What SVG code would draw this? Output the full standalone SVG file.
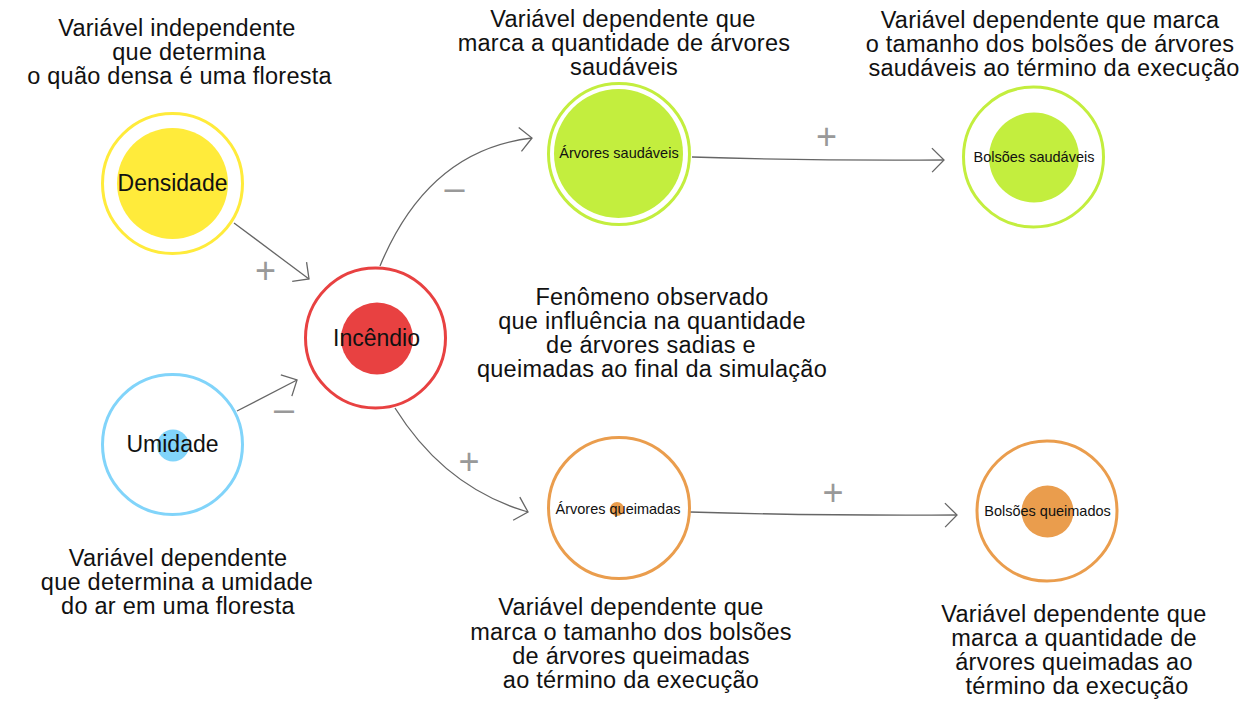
<svg xmlns="http://www.w3.org/2000/svg" width="1252" height="711" viewBox="0 0 1252 711">
<style>
text{font-family:"Liberation Sans",Arial,sans-serif;fill:#111;text-anchor:middle}
.ann{font-size:23.5px;letter-spacing:0.25px}
.big{font-size:23px}
.sm{font-size:14.5px}
.ring{fill:none;stroke-width:3}
.edge{fill:none;stroke:#666;stroke-width:1.3}
.sign{font-size:36px;fill:#999}
</style>
<defs>
<marker id="arr" markerUnits="userSpaceOnUse" markerWidth="30" markerHeight="30" viewBox="0 0 30 30" refX="15" refY="15" orient="auto">
<path d="M3,3 L15,15 L3,27" fill="none" stroke="#666" stroke-width="1.3"/>
</marker>
</defs>
<rect width="1252" height="711" fill="#fff"/>

<g id="connectors">
<path class="edge" d="M234,223 L309,279" marker-end="url(#arr)"/>
<path class="edge" d="M237,411 L297,380" marker-end="url(#arr)"/>
<path class="edge" d="M380,266 Q428,150 532,138" marker-end="url(#arr)"/>
<path class="edge" d="M692,157 Q820,161 944,160" marker-end="url(#arr)"/>
<path class="edge" d="M395,408 Q445,488 528,512" marker-end="url(#arr)"/>
<path class="edge" d="M690,512 Q830,516 957,515" marker-end="url(#arr)"/>
<text class="sign" x="265.5" y="283">+</text>
<text class="sign" x="284" y="421">–</text>
<text class="sign" x="454.5" y="200">–</text>
<text class="sign" x="826.5" y="149">+</text>
<text class="sign" x="469" y="474">+</text>
<text class="sign" x="833" y="504.5">+</text>
</g>

<g id="densidade">
<circle class="ring" cx="172.5" cy="183.5" r="70" stroke="#FFEB3B"/>
<circle cx="172.5" cy="183.5" r="55.5" fill="#FFEB3B"/>
<text class="big" x="172.5" y="191">Densidade</text>
</g>

<g id="umidade">
<circle class="ring" cx="172.5" cy="444.5" r="70" stroke="#81D4FA"/>
<circle cx="173" cy="445.5" r="16" fill="#81D4FA"/>
<text class="big" x="172.5" y="452">Umidade</text>
</g>

<g id="incendio">
<circle class="ring" cx="375.5" cy="338" r="70" stroke="#E84141"/>
<circle cx="377" cy="338.5" r="36" fill="#E84141"/>
<text class="big" x="376.5" y="346">Incêndio</text>
</g>

<g id="arvores-saudaveis">
<circle class="ring" cx="619" cy="154" r="70.5" stroke="#C3EE3E"/>
<circle cx="618.5" cy="153.5" r="64.5" fill="#C3EE3E"/>
<text class="sm" x="619" y="158">Árvores saudáveis</text>
</g>

<g id="bolsoes-saudaveis">
<circle class="ring" cx="1033.5" cy="157" r="70" stroke="#C3EE3E"/>
<circle cx="1034" cy="157.5" r="45" fill="#C3EE3E"/>
<text class="sm" x="1034" y="162">Bolsões saudáveis</text>
</g>

<g id="arvores-queimadas">
<circle class="ring" cx="619" cy="508" r="70.5" stroke="#EA9D4D"/>
<circle cx="617" cy="509" r="7" fill="#EA9D4D"/>
<text class="sm" x="618" y="514">Árvores queimadas</text>
</g>

<g id="bolsoes-queimados">
<circle class="ring" cx="1047" cy="511" r="70" stroke="#EA9D4D"/>
<circle cx="1047.5" cy="511.5" r="26" fill="#EA9D4D"/>
<text class="sm" x="1047.5" y="516">Bolsões queimados</text>
</g>

<g id="annotations">
<text class="ann"><tspan x="177" y="36">Variável independente</tspan><tspan x="189" y="60">que determina</tspan><tspan x="179.5" y="84">o quão densa é uma floresta</tspan></text>
<text class="ann"><tspan x="623" y="27">Variável dependente que</tspan><tspan x="624" y="51">marca a quantidade de árvores</tspan><tspan x="624" y="75">saudáveis</tspan></text>
<text class="ann"><tspan x="1050" y="28">Variável dependente que marca</tspan><tspan x="1050" y="52">o tamanho dos bolsões de árvores</tspan><tspan x="1054" y="76">saudáveis ao término da execução</tspan></text>
<text class="ann"><tspan x="652" y="305">Fenômeno observado</tspan><tspan x="652" y="329">que influência na quantidade</tspan><tspan x="651" y="353">de árvores sadias e</tspan><tspan x="652" y="377">queimadas ao final da simulação</tspan></text>
<text class="ann"><tspan x="178" y="566">Variável dependente</tspan><tspan x="177" y="590">que determina a umidade</tspan><tspan x="178" y="614">do ar em uma floresta</tspan></text>
<text class="ann"><tspan x="631" y="615">Variável dependente que</tspan><tspan x="631" y="640">marca o tamanho dos bolsões</tspan><tspan x="631" y="664">de árvores queimadas</tspan><tspan x="631" y="688">ao término da execução</tspan></text>
<text class="ann"><tspan x="1074" y="622">Variável dependente que</tspan><tspan x="1074" y="646">marca a quantidade de</tspan><tspan x="1074" y="670">árvores queimadas ao</tspan><tspan x="1077" y="694">término da execução</tspan></text>
</g>
</svg>
